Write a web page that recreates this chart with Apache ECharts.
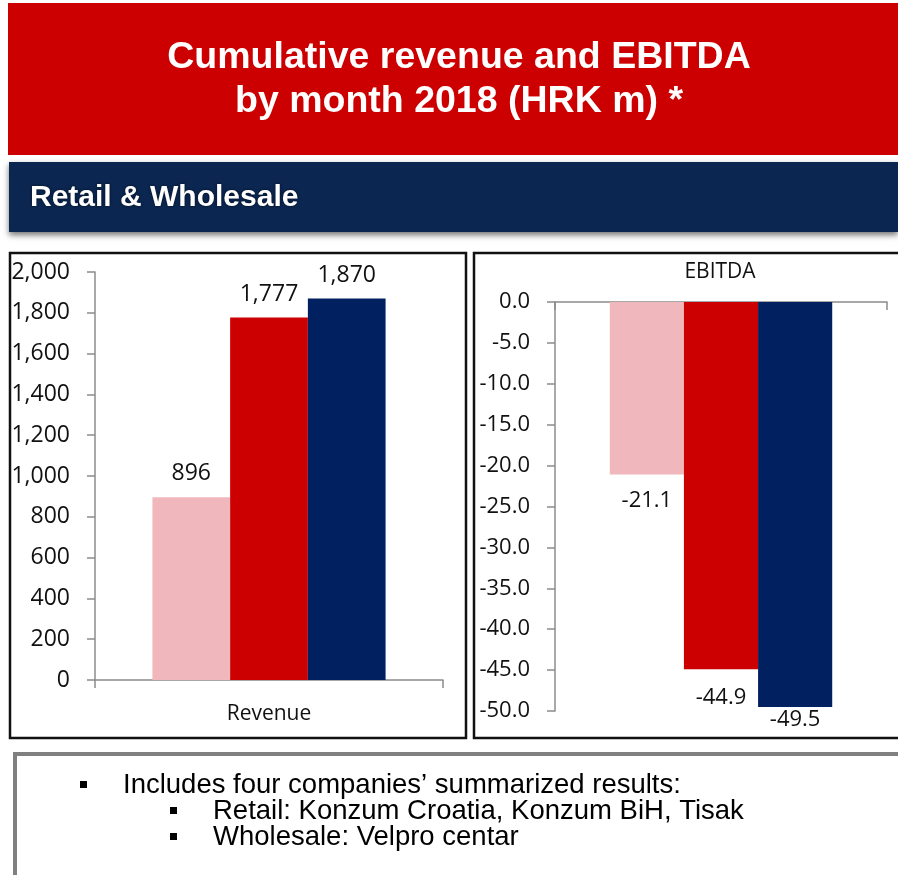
<!DOCTYPE html>
<html>
<head>
<meta charset="utf-8">
<script src="https://cdn.jsdelivr.net/npm/echarts@6/dist/echarts.min.js"></script>
<style>
  html, body { margin: 0; padding: 0; background: #fff; }
  #chart { width: 898px; height: 875px; }
</style>
</head>
<body>
<div id="chart"></div>
<script>
// data
var revenueCategories = ['Revenue'];
var ebitdaCategories = [''];
var seriesNames = ['Period 1', 'Period 2', 'Period 3'];
var revenueValues = [896, 1777, 1870];
var ebitdaValues = [-21.1, -44.9, -49.5];
var revenueTicks = { min: 0, max: 2000, interval: 200 };
var ebitdaTicks = { min: -50, max: 0, interval: 5 };
var barColors = ['#f0b8bd', '#cc0000', '#002060'];
var titleLines = ['Cumulative revenue and EBITDA', 'by month 2018 (HRK m) *'];
var bandText = 'Retail & Wholesale';
var notes = [
  { level: 0, text: 'Includes four companies\u2019 summarized results:' },
  { level: 1, text: 'Retail: Konzum Croatia, Konzum BiH, Tisak' },
  { level: 1, text: 'Wholesale: Velpro centar' }
];

var chart = echarts.init(document.getElementById('chart'));

var axisFont = { fontFamily: 'Open Sans', fontSize: 23, color: '#111' };
var axisGray = { color: '#8c8c8c', width: 1.5 };

function fmtThousands(v) {
  return v.toLocaleString('en-US');
}

// label distances for the EBITDA bars (placed like in the slide)
var ebitdaLabelDist = [15, 17, 2];

var series = [];
seriesNames.forEach(function (name, i) {
  series.push({
    name: name,
    type: 'bar',
    xAxisIndex: 0,
    yAxisIndex: 0,
    barGap: '0%',
    barCategoryGap: '33%',
    itemStyle: { color: barColors[i] },
    label: {
      show: true,
      position: 'top',
      distance: 12,
      fontFamily: 'Open Sans',
      fontSize: 23,
      color: '#111',
      formatter: function (p) { return fmtThousands(p.value); }
    },
    data: [revenueValues[i]]
  });
  series.push({
    name: name,
    type: 'bar',
    xAxisIndex: 1,
    yAxisIndex: 1,
    barGap: '0%',
    barCategoryGap: '33%',
    itemStyle: { color: barColors[i] },
    label: {
      show: true,
      position: 'bottom',
      distance: ebitdaLabelDist[i],
      fontFamily: 'Open Sans',
      fontSize: 22,
      color: '#111',
      formatter: function (p) { return p.value.toFixed(1); }
    },
    data: [ebitdaValues[i]]
  });
});

var graphics = [
  // red header
  { type: 'rect', shape: { x: 8, y: 3, width: 890, height: 152 }, style: { fill: '#cc0000' } },
  { type: 'text', x: 459, y: 58, style: { text: titleLines[0], fill: '#fff', font: 'bold 37.5px "Liberation Sans", Arial', align: 'center', verticalAlign: 'middle' } },
  { type: 'text', x: 459, y: 102, style: { text: titleLines[1], fill: '#fff', font: 'bold 37.5px "Liberation Sans", Arial', align: 'center', verticalAlign: 'middle' } },
  // navy band with shadow
  { type: 'rect', shape: { x: 9, y: 162, width: 889, height: 70 }, style: { fill: '#0b2650', shadowBlur: 6, shadowOffsetY: 3, shadowColor: 'rgba(0,0,0,0.55)' } },
  { type: 'text', x: 30, y: 198, style: { text: bandText, fill: '#fff', font: 'bold 30px "Liberation Sans", Arial', verticalAlign: 'middle', textShadowBlur: 3, textShadowColor: 'rgba(0,0,0,0.6)' } },
  // chart frames
  { type: 'rect', shape: { x: 10, y: 253, width: 456, height: 485 }, style: { fill: 'none', stroke: '#111', lineWidth: 2.5 } },
  { type: 'rect', shape: { x: 474, y: 253, width: 430, height: 485 }, style: { fill: 'none', stroke: '#111', lineWidth: 2.5 } },
  { type: 'text', x: 720, y: 272, style: { text: 'EBITDA', fill: '#111', font: '21px "Open Sans"', align: 'center', verticalAlign: 'middle' } },
  // notes box
  { type: 'rect', shape: { x: 15, y: 754, width: 890, height: 130 }, style: { fill: 'none', stroke: '#808080', lineWidth: 4 } }
];

notes.forEach(function (n, i) {
  var bx = n.level === 0 ? 80 : 170;
  var tx = n.level === 0 ? 123 : 213;
  var cy = 785 + i * 26;
  graphics.push({ type: 'rect', shape: { x: bx, y: cy - 4, width: 7, height: 7 }, style: { fill: '#000' } });
  graphics.push({ type: 'text', x: tx, y: cy, style: { text: n.text, fill: '#000', font: '27.5px "Liberation Sans", Arial', verticalAlign: 'middle' } });
});

var option = {
  backgroundColor: '#fff',
  animation: false,
  grid: [
    { left: 95, right: 455, top: 272, bottom: 195, outerBoundsMode: 'none' },
    { left: 555, right: 11, top: 302, bottom: 164, outerBoundsMode: 'none' }
  ],
  xAxis: [
    {
      type: 'category', gridIndex: 0, data: revenueCategories,
      axisLine: { lineStyle: axisGray },
      axisTick: { show: true, length: 8, lineStyle: axisGray },
      axisLabel: Object.assign({ margin: 24 }, axisFont, { fontSize: 21 })
    },
    {
      type: 'category', gridIndex: 1, data: ebitdaCategories,
      axisLine: { onZero: true, lineStyle: axisGray },
      axisTick: { show: true, length: 8, lineStyle: axisGray },
      axisLabel: { show: false }
    }
  ],
  yAxis: [
    {
      type: 'value', gridIndex: 0,
      min: revenueTicks.min, max: revenueTicks.max, interval: revenueTicks.interval,
      splitLine: { show: false },
      axisLine: { show: true, lineStyle: axisGray },
      axisTick: { show: true, length: 8, lineStyle: axisGray },
      axisLabel: Object.assign({ margin: 25, formatter: fmtThousands }, axisFont)
    },
    {
      type: 'value', gridIndex: 1,
      min: ebitdaTicks.min, max: ebitdaTicks.max, interval: ebitdaTicks.interval,
      splitLine: { show: false },
      axisLine: { show: true, lineStyle: axisGray },
      axisTick: { show: true, length: 8, lineStyle: axisGray },
      axisLabel: Object.assign({ margin: 25, formatter: function (v) { return v.toFixed(1); } }, axisFont, { fontSize: 22 })
    }
  ],
  graphic: graphics,
  series: series
};

chart.setOption(option);

window.addEventListener('resize', function () {
  chart.resize();
});
</script>
</body>
</html>
